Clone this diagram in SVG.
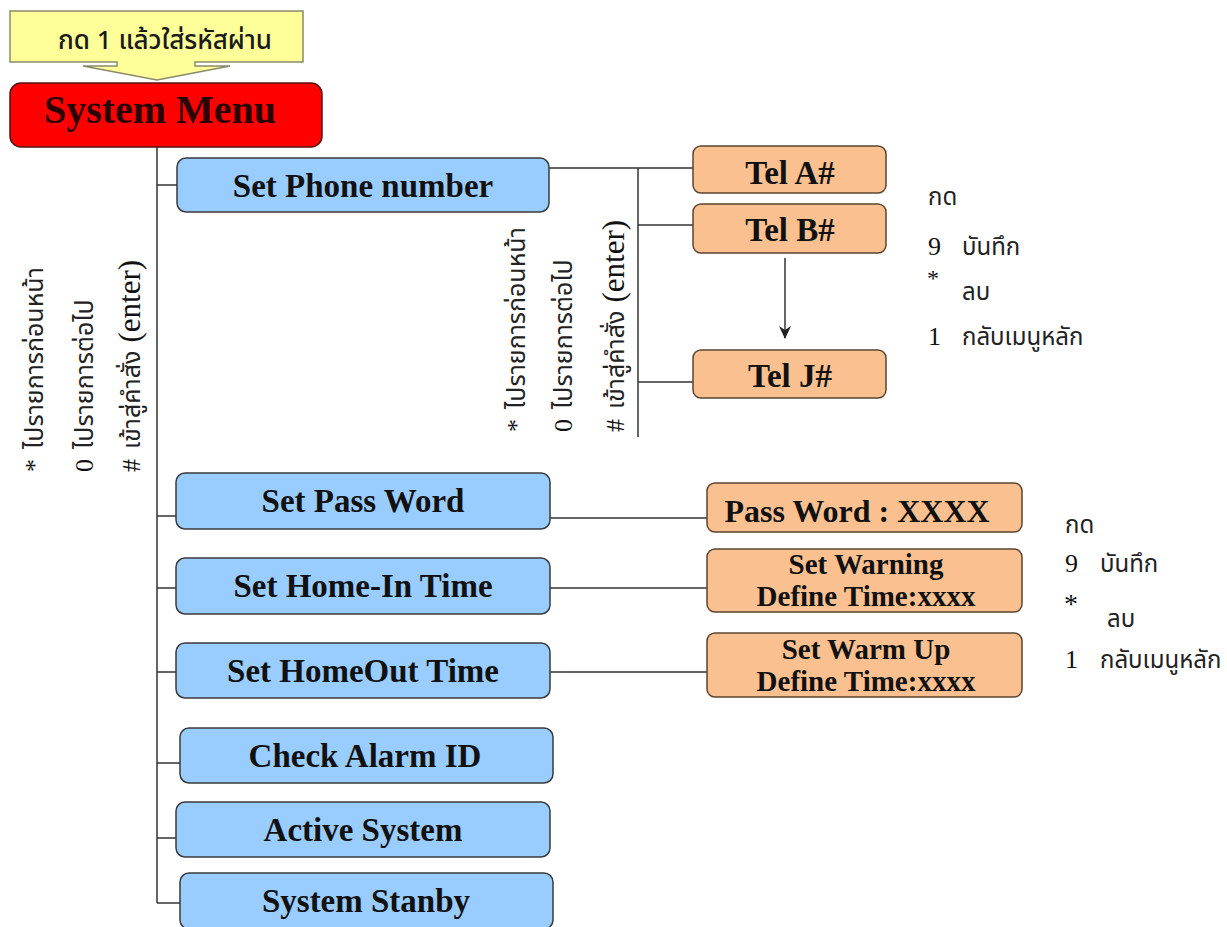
<svg xmlns="http://www.w3.org/2000/svg" width="1227" height="927" viewBox="0 0 1227 927">
<style>
  .blue { fill: #99CCFF; stroke: #3a3a3a; stroke-width: 1.5; }
  .peach { fill: #FAC090; stroke: #5a4630; stroke-width: 1.5; }
  .red { fill: #FF0000; stroke: #5a1010; stroke-width: 1.5; }
  .call { fill: #FFFF99; stroke: #8a8a6a; stroke-width: 1.5; }
  .lbl { font-family: "Liberation Serif", "Times New Roman", serif; font-weight: bold; fill: #111; text-anchor: middle; }
  .big { font-size: 33px; }
  .two { font-size: 29px; }
  .thai { font-family: "Noto Sans Thai", "Noto Serif Thai", "Loma", "Garuda", "Tlwg Typo", "Noto Sans", "DejaVu Sans", sans-serif; font-size: 24px; fill: #222; }
  .rt { font-size: 25px; }
  .ser { font-family: "Liberation Serif", "Times New Roman", serif; fill: #111; }
  .conn line, .conn path { stroke: #333; stroke-width: 1.5; fill: none; }
</style>
<defs>
  <marker id="ah" markerWidth="14" markerHeight="12" refX="12" refY="6" orient="auto" markerUnits="userSpaceOnUse">
    <path d="M0,0 L13,6 L0,12 L4,6 z" fill="#222"/>
  </marker>
</defs>
<rect width="1227" height="927" fill="#ffffff"/>

<g id="connectors" class="conn">
  <line x1="157" y1="147" x2="157" y2="903"/>
  <line x1="157" y1="185" x2="177" y2="185"/>
  <line x1="157" y1="516" x2="176" y2="516"/>
  <line x1="157" y1="588" x2="176" y2="588"/>
  <line x1="157" y1="672" x2="176" y2="672"/>
  <line x1="157" y1="763" x2="180" y2="763"/>
  <line x1="157" y1="838" x2="176" y2="838"/>
  <line x1="157" y1="903" x2="180" y2="903"/>
  <line x1="549" y1="168" x2="693" y2="168"/>
  <line x1="638" y1="168" x2="638" y2="437"/>
  <line x1="638" y1="225" x2="693" y2="225"/>
  <line x1="638" y1="382" x2="693" y2="382"/>
  <line x1="785" y1="258" x2="785" y2="338" marker-end="url(#ah)"/>
  <line x1="550" y1="518" x2="707" y2="518"/>
  <line x1="550" y1="588" x2="707" y2="588"/>
  <line x1="550" y1="672" x2="707" y2="672"/>
</g>

<g id="callout">
  <path class="call" d="M10,11 H303 V62 H195 V66 H230 L157,80 L83,66 H117 V62 H10 Z"/>
  <text x="165" y="49" text-anchor="middle" class="thai" style="font-size:26px;font-weight:500;fill:#1a1a1a">กด 1 แล้วใส่รหัสผ่าน</text>
</g>

<g id="system-menu">
  <rect class="red" x="10" y="83" width="312" height="64" rx="11"/>
  <text class="lbl" x="160" y="123" style="font-size:40px;fill:#2a0000">System Menu</text>
</g>

<g id="set-phone">
  <rect class="blue" x="177" y="158" width="372" height="54" rx="9"/>
  <text class="lbl big" x="363" y="197">Set Phone number</text>
</g>
<g id="set-pass">
  <rect class="blue" x="176" y="473" width="374" height="56" rx="9"/>
  <text class="lbl big" x="363" y="512">Set Pass Word</text>
</g>
<g id="set-homein">
  <rect class="blue" x="176" y="558" width="374" height="56" rx="9"/>
  <text class="lbl big" x="363" y="597">Set Home-In Time</text>
</g>
<g id="set-homeout">
  <rect class="blue" x="176" y="643" width="374" height="55" rx="9"/>
  <text class="lbl big" x="363" y="682">Set HomeOut Time</text>
</g>
<g id="check-alarm">
  <rect class="blue" x="180" y="728" width="373" height="55" rx="9"/>
  <text class="lbl big" x="365" y="767">Check Alarm ID</text>
</g>
<g id="active-system">
  <rect class="blue" x="176" y="802" width="374" height="55" rx="9"/>
  <text class="lbl big" x="363" y="841">Active System</text>
</g>
<g id="system-stanby">
  <rect class="blue" x="180" y="873" width="373" height="56" rx="9"/>
  <text class="lbl big" x="366" y="912">System Stanby</text>
</g>

<g id="tel-a">
  <rect class="peach" x="693" y="146" width="193" height="47" rx="8"/>
  <text class="lbl big" x="790" y="184">Tel A#</text>
</g>
<g id="tel-b">
  <rect class="peach" x="693" y="204" width="193" height="49" rx="8"/>
  <text class="lbl big" x="790" y="241">Tel B#</text>
</g>
<g id="tel-j">
  <rect class="peach" x="693" y="350" width="193" height="48" rx="8"/>
  <text class="lbl big" x="790" y="387">Tel J#</text>
</g>

<g id="pass-word">
  <rect class="peach" x="707" y="483" width="315" height="49" rx="8"/>
  <text class="lbl" x="857" y="522" style="font-size:32px">Pass Word : XXXX</text>
</g>
<g id="set-warning">
  <rect class="peach" x="707" y="549" width="315" height="63" rx="8"/>
  <text class="lbl two" x="866" y="574">Set Warning</text>
  <text class="lbl two" x="866" y="606">Define Time:xxxx</text>
</g>
<g id="set-warmup">
  <rect class="peach" x="707" y="633" width="315" height="64" rx="8"/>
  <text class="lbl two" x="866" y="659">Set Warm Up</text>
  <text class="lbl two" x="866" y="691">Define Time:xxxx</text>
</g>

<g id="left-keys">
  <text transform="translate(43,472) rotate(-90)"><tspan class="ser" style="font-size:26px">*</tspan><tspan class="thai rt" dx="10">ไปรายการก่อนหน้า</tspan></text>
  <text transform="translate(93,472) rotate(-90)"><tspan class="ser" style="font-size:26px">0</tspan><tspan class="thai rt" dx="10">ไปรายการต่อไป</tspan></text>
  <text transform="translate(140,472) rotate(-90)"><tspan class="ser" style="font-size:26px">#</tspan><tspan class="thai rt" dx="10">เข้าสู่คำสั่ง</tspan><tspan class="ser" style="font-size:31px" dx="8">(enter)</tspan></text>
</g>

<g id="mid-keys">
  <text transform="translate(525,432) rotate(-90)"><tspan class="ser" style="font-size:26px">*</tspan><tspan class="thai rt" dx="10">ไปรายการก่อนหน้า</tspan></text>
  <text transform="translate(572,432) rotate(-90)"><tspan class="ser" style="font-size:26px">0</tspan><tspan class="thai rt" dx="10">ไปรายการต่อไป</tspan></text>
  <text transform="translate(624,432) rotate(-90)"><tspan class="ser" style="font-size:26px">#</tspan><tspan class="thai rt" dx="10">เข้าสู่คำสั่ง</tspan><tspan class="ser" style="font-size:31px" dx="8">(enter)</tspan></text>
</g>

<g id="keys-top">
  <text class="thai" x="928" y="205">กด</text>
  <text class="ser" x="928" y="255" style="font-size:26px">9</text>
  <text class="thai" x="962" y="255">บันทึก</text>
  <text class="ser" x="927" y="286" style="font-size:24px">*</text>
  <text class="thai" x="962" y="300">ลบ</text>
  <text class="ser" x="928" y="345" style="font-size:26px">1</text>
  <text class="thai" x="962" y="345">กลับเมนูหลัก</text>
</g>

<g id="keys-bottom">
  <text class="thai" x="1065" y="533">กด</text>
  <text class="ser" x="1065" y="572" style="font-size:26px">9</text>
  <text class="thai" x="1100" y="572">บันทึก</text>
  <text class="ser" x="1064" y="613" style="font-size:28px">*</text>
  <text class="thai" x="1107" y="627">ลบ</text>
  <text class="ser" x="1065" y="668" style="font-size:26px">1</text>
  <text class="thai" x="1100" y="668">กลับเมนูหลัก</text>
</g>
</svg>
